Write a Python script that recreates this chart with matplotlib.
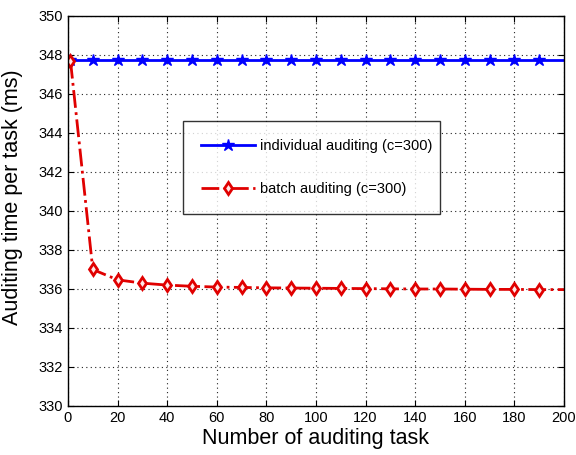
import matplotlib
matplotlib.use("Agg")
import matplotlib.pyplot as plt

plt.rcParams["font.family"] = ["Liberation Sans", "DejaVu Sans"]

tasks = [1, 10, 20, 30, 40, 50, 60, 70, 80, 90, 100,
         110, 120, 130, 140, 150, 160, 170, 180, 190, 200]
individual = [347.74] * len(tasks)
batch = [347.7, 337.0, 336.47, 336.3, 336.2, 336.14, 336.1, 336.08, 336.06, 336.05, 336.04,
         336.03, 336.02, 336.01, 336.0, 336.0, 335.99, 335.98, 335.98, 335.97, 335.97]

fig = plt.figure(figsize=(5.76, 4.55), dpi=100)
ax = fig.add_axes([68 / 576, 1 - 406 / 455, 496 / 576, 390 / 455])

n = len(tasks) - 1
ax.plot(tasks, individual, color="#0000ff", lw=2, marker="*", ms=9,
        markevery=list(range(n)), label="individual auditing (c=300)")
ax.plot(tasks, batch, color="#e00000", lw=2, ls="-.", marker="d", ms=6,
        mfc="#ffe8e8", mec="#e00000", mew=2, markevery=list(range(n)),
        label="batch auditing (c=300)")

ax.set_xlim(0, 200)
ax.set_ylim(330, 350)
ax.set_xticks(range(0, 201, 20))
ax.set_yticks(range(330, 351, 2))
ax.grid(True, color="#222222", ls=(0, (1, 3)), lw=0.8)
ax.tick_params(direction="in", top=True, right=True, labelsize=10.5, length=4)
for s in ax.spines.values():
    s.set_linewidth(1)

ax.set_xlabel("Number of auditing task", fontsize=15.5, labelpad=2)
ax.set_ylabel("Auditing time per task (ms)", fontsize=15.5, labelpad=2)
ax.yaxis.set_label_coords(-0.09, 0.535)

leg = ax.legend(loc="center", bbox_to_anchor=(0.232, 0.497, 0.518, 0.229),
                mode="expand", fontsize=10.5, frameon=True, fancybox=False,
                edgecolor="black", borderpad=1.25, labelspacing=2.0,
                handlelength=3.7, handletextpad=0.3, borderaxespad=0)
leg.get_frame().set_linewidth(1)

fig.savefig("out.png", dpi=100)
